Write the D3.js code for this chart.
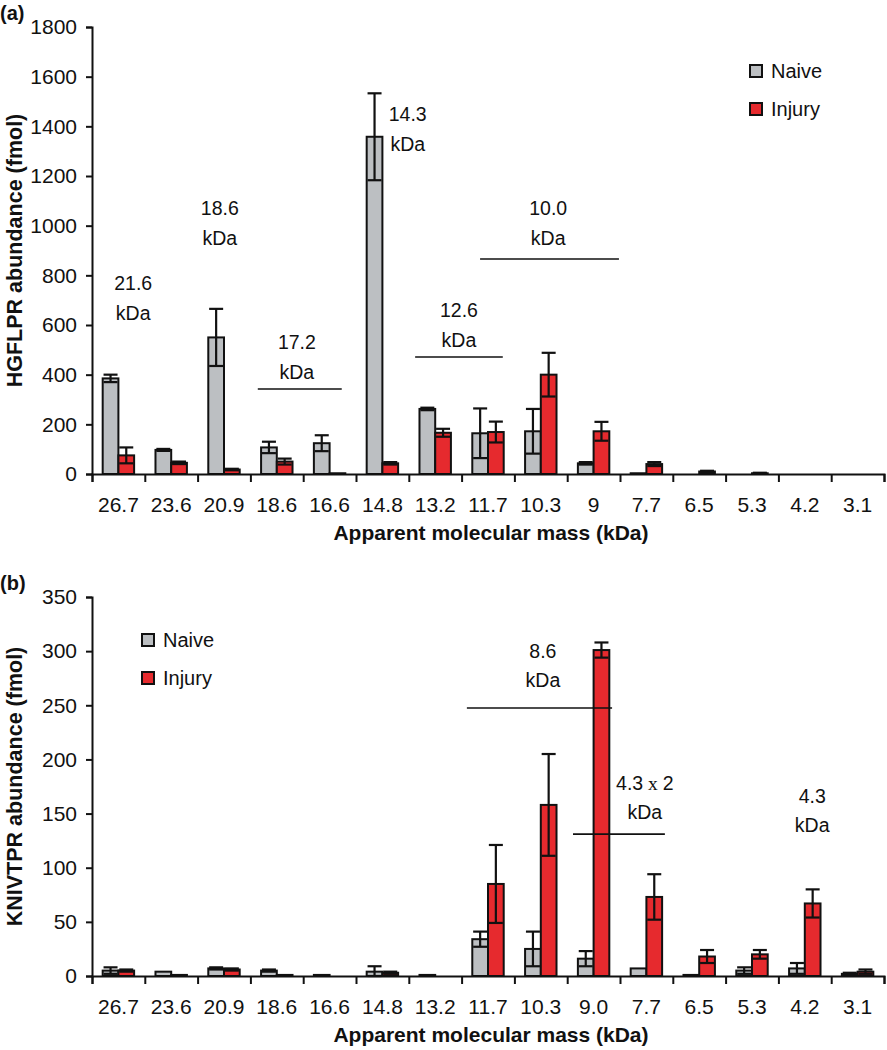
<!DOCTYPE html>
<html>
<head>
<meta charset="utf-8">
<script src="https://cdn.jsdelivr.net/npm/d3@7"></script>
<style>
  body { margin: 0; background: #fff; }
  text { font-family: "Liberation Sans", Arial, sans-serif; fill: #111; }
</style>
</head>
<body>
<div id="chart"></div>
<script>
// Data
const massA = ["26.7","23.6","20.9","18.6","16.6","14.8","13.2","11.7","10.3","9","7.7","6.5","5.3","4.2","3.1"];
const naiveA = [385, 97, 550, 107, 124, 1358, 262, 164, 172, 43, 3, 0, 0, 0, 0];
const naiveErrA = [15, 4, 115, 23, 32, 175, 5, 100, 90, 5, 0, 0, 0, 0, 0];
const injuryA = [75, 45, 18, 50, 3, 43, 166, 169, 400, 172, 40, 10, 3, 0, 0];
const injuryErrA = [32, 5, 3, 12, 0, 5, 16, 42, 88, 38, 8, 3, 2, 0, 0];

const massB = ["26.7","23.6","20.9","18.6","16.6","14.8","13.2","11.7","10.3","9.0","7.7","6.5","5.3","4.2","3.1"];
const naiveB = [5, 4, 7, 5, 1, 4, 1, 34, 25, 16, 7, 1, 5, 7, 2];
const naiveErrB = [3, 0, 1, 1, 0, 5, 0, 7, 16, 7, 0, 0, 3, 5, 1];
const injuryB = [5, 1, 6, 1, 0, 3, 0, 85, 158, 301, 73, 18, 20, 67, 4];
const injuryErrB = [1, 0, 1, 0, 0, 1, 0, 36, 47, 7, 21, 6, 4, 13, 2];

const seriesNames = ["Naive", "Injury"];
const yTicksA = d3.range(0, 1801, 200);
const yTicksB = d3.range(0, 351, 50);

let svgWidth = 887;
let svgHeight = 1050;
const colors = {Naive: "#bcbfc2", Injury: "#e62a2e"};

let svg = d3.select("#chart")
  .append("svg")
  .attr("width", svgWidth)
  .attr("height", svgHeight);

function drawPanel(p) {
  const left = 92, right = 884;
  const x0 = d3.scaleBand().domain(p.cats).range([left, right]).padding(0);
  const x1 = d3.scaleBand().domain(seriesNames).range([0, x0.bandwidth()]).paddingOuter(0.68);
  const xi = d3.scaleLinear().domain([0, p.cats.length]).range([left, right]);
  const y = d3.scaleLinear().domain([0, p.yMax]).range([p.bottom, p.top]);
  const g = svg.append("g");

  // bars
  const rows = p.cats.map((c, i) => ({
    cat: c,
    vals: [
      {s: "Naive", v: p.naive[i], e: p.naiveErr[i]},
      {s: "Injury", v: p.injury[i], e: p.injuryErr[i]}
    ]
  }));
  const grp = g.selectAll(".grp").data(rows).enter().append("g")
    .attr("transform", d => `translate(${x0(d.cat)},0)`);
  grp.selectAll("rect").data(d => d.vals.filter(v => v.v > 0)).enter().append("rect")
    .attr("x", d => x1(d.s))
    .attr("y", d => y(d.v))
    .attr("width", x1.bandwidth())
    .attr("height", d => y(0) - y(d.v))
    .attr("fill", d => colors[d.s])
    .attr("stroke", "#111")
    .attr("stroke-width", 2);

  // error bars
  const eb = grp.selectAll(".err").data(d => d.vals.filter(v => v.e > 0)).enter().append("g")
    .attr("stroke", "#111").attr("stroke-width", 2.2);
  const cx = d => x1(d.s) + x1.bandwidth() / 2;
  eb.append("line").attr("x1", cx).attr("x2", cx)
    .attr("y1", d => y(d.v + d.e)).attr("y2", d => y(Math.max(d.v - d.e, 0)));
  eb.append("line").attr("x1", d => cx(d) - 7).attr("x2", d => cx(d) + 7)
    .attr("y1", d => y(d.v + d.e)).attr("y2", d => y(d.v + d.e));
  eb.append("line").attr("x1", d => cx(d) - 7).attr("x2", d => cx(d) + 7)
    .attr("y1", d => y(Math.max(d.v - d.e, 0))).attr("y2", d => y(Math.max(d.v - d.e, 0)));

  // y axis
  const yAxis = g.append("g")
    .attr("transform", `translate(${left},0)`)
    .call(d3.axisLeft(y).tickValues(p.yTicks).tickFormat(d3.format("d")).tickSize(6).tickPadding(9));
  yAxis.selectAll("text").style("font-size", "21px");

  // x axis: ticks at the category boundaries, labels centred
  g.append("g")
    .attr("transform", `translate(0,${p.bottom})`)
    .call(d3.axisBottom(xi).tickValues(d3.range(p.cats.length + 1)).tickSize(8).tickFormat(""));
  g.append("g")
    .attr("transform", `translate(0,${p.bottom})`)
    .call(d3.axisBottom(x0).tickSize(0).tickPadding(23))
    .call(a => a.select(".domain").remove())
    .selectAll("text").style("font-size", "21px");
  g.selectAll(".domain, .tick line").attr("stroke", "#111").attr("stroke-width", 2);

  // axis titles
  g.append("text")
    .attr("x", 491).attr("y", p.bottom + 66)
    .attr("text-anchor", "middle")
    .style("font-size", "21px").style("font-weight", "bold")
    .text("Apparent molecular mass (kDa)");
  g.append("text")
    .attr("transform", `translate(22,${(p.top + p.bottom) / 2}) rotate(-90)`)
    .attr("text-anchor", "middle")
    .style("font-size", "21.5px").style("font-weight", "bold")
    .text(p.yTitle);

  // panel letter
  g.append("text").attr("x", 0).attr("y", p.top - 7)
    .style("font-size", "20px").style("font-weight", "bold")
    .text(p.letter);

  // legend
  const lg = g.append("g").attr("transform", `translate(${p.legend[0]},${p.legend[1]})`);
  seriesNames.forEach((s, i) => {
    lg.append("rect").attr("x", 0).attr("y", i * 38 - 6).attr("width", 12).attr("height", 12)
      .attr("fill", colors[s]).attr("stroke", "#111").attr("stroke-width", 2);
    lg.append("text").attr("x", 21).attr("y", i * 38 + 7).style("font-size", "20px").text(s);
  });

  // kDa annotations
  p.notes.forEach(n => {
    const t = g.append("text").attr("text-anchor", "middle").style("font-size", "19.5px");
    t.append("tspan").attr("x", xi(n.at)).attr("y", y(n.val) + 7).text(n.label);
    if (n.times) {
      t.append("tspan").style("font-family", "'Liberation Serif', serif").text(" x ");
      t.append("tspan").text("2");
    }
    t.append("tspan").attr("x", xi(n.at)).attr("y", y(n.val) + 7 + p.lineGap).text("kDa");
    if (n.line) {
      g.append("line")
        .attr("x1", xi(n.line[0])).attr("x2", xi(n.line[1]))
        .attr("y1", y(n.line[2])).attr("y2", y(n.line[2]))
        .attr("stroke", "#111").attr("stroke-width", 1.6);
    }
  });
}

drawPanel({
  letter: "(a)", cats: massA, naive: naiveA, naiveErr: naiveErrA, injury: injuryA, injuryErr: injuryErrA,
  yMax: 1800, yTicks: yTicksA, top: 27, bottom: 474,
  yTitle: "HGFLPR abundance (fmol)", legend: [750, 71], lineGap: 30,
  notes: [
    {label: "21.6", at: 0.78, val: 769},
    {label: "18.6", at: 2.42, val: 1071},
    {label: "14.3", at: 5.98, val: 1450},
    {label: "17.2", at: 3.88, val: 532, line: [3.14, 4.73, 342]},
    {label: "12.6", at: 6.95, val: 660, line: [6.12, 7.78, 471]},
    {label: "10.0", at: 8.64, val: 1071, line: [7.35, 9.98, 866]}
  ]
});

drawPanel({
  letter: "(b)", cats: massB, naive: naiveB, naiveErr: naiveErrB, injury: injuryB, injuryErr: injuryErrB,
  yMax: 350, yTicks: yTicksB, top: 597, bottom: 976,
  yTitle: "KNIVTPR abundance (fmol)", legend: [142, 640], lineGap: 29,
  notes: [
    {label: "8.6", at: 8.54, val: 300, line: [7.10, 9.85, 247.5]},
    {label: "4.3", times: true, at: 10.47, val: 178, line: [9.11, 10.85, 131]},
    {label: "4.3", at: 13.64, val: 166}
  ]
});
</script>
</body>
</html>
